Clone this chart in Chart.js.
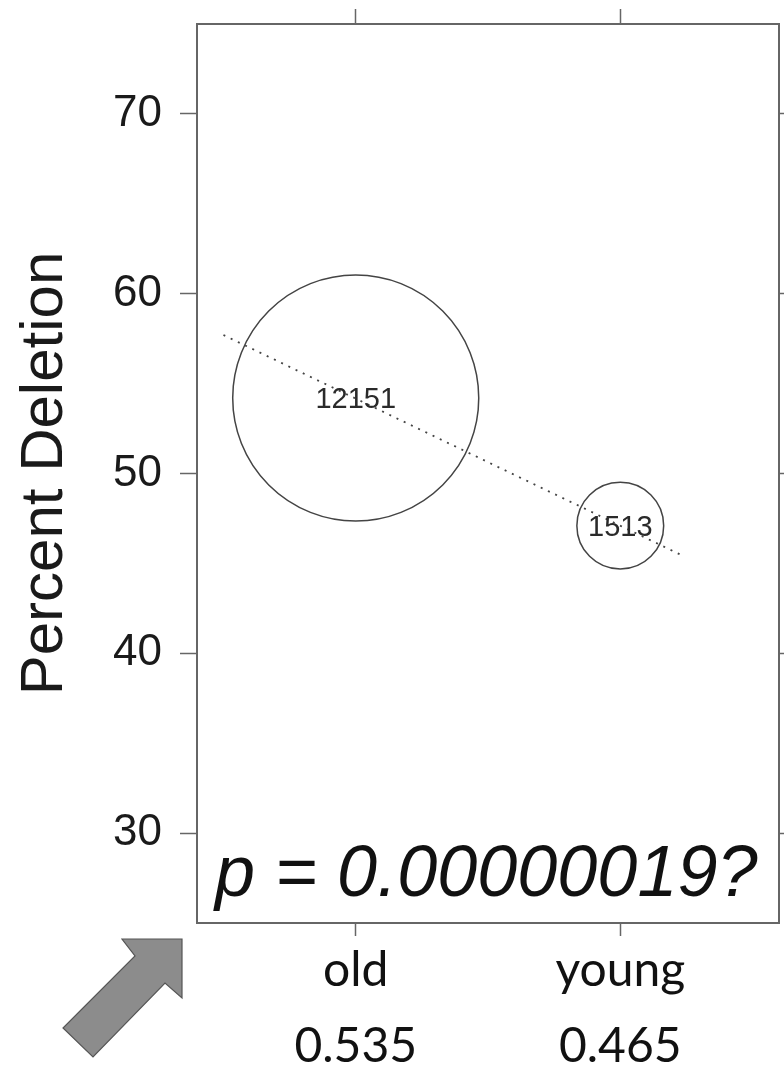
<!DOCTYPE html>
<html>
<head>
<meta charset="utf-8">
<title>Percent Deletion by age group</title>
<script src="https://cdn.jsdelivr.net/npm/chart.js@4.4.1/dist/chart.umd.min.js"></script>
<style>
  html, body { margin: 0; padding: 0; background: #fff; }
  #wrap { position: relative; width: 784px; height: 1071px; }
</style>
</head>
<body>
<div id="wrap"><canvas id="chart"></canvas></div>
<script>
// ── Data ──
const groups = ['old', 'young'];
const groupFreq = ['0.535', '0.465'];
const groupX = [1, 2];
const meanDeletion = [54.2, 47.1];
const groupCounts = [12151, 1513];
const trendX = [0.5, 2.24];
const trendY = [57.7, 45.4];
const yTicks = [30, 40, 50, 60, 70];
const pLabel = 'p = 0.00000019?';

const AXIS = '#666';
const INK = '#1a1a1a';
const SANS = '"Liberation Sans", Arial, sans-serif';

// circle area follows the number of observations
function bubbleRadius(n) {
  return 1.116 * Math.sqrt(n);
}

function fixTicks(values) {
  return scale => { scale.ticks = values.map(v => ({ value: v })); };
}

// fixed box sizes so the plot frame lands where the panel layout wants it
function fitTo(size) {
  return scale => {
    if (scale.isHorizontal()) scale.height = size;
    else scale.width = size;
    scale.paddingTop = scale.paddingBottom = scale.paddingLeft = scale.paddingRight = 0;
  };
}

// ── Overlays: counts inside the circles, p-value, corner arrow ──
const overlays = {
  id: 'overlays',
  afterDatasetsDraw(chart) {
    const { ctx, chartArea } = chart;
    const meta = chart.getDatasetMeta(0);
    ctx.save();
    ctx.fillStyle = '#2a2a2a';
    ctx.font = '29px ' + SANS;
    ctx.textAlign = 'center';
    ctx.textBaseline = 'middle';
    meta.data.forEach((el, i) => ctx.fillText(String(groupCounts[i]), el.x, el.y + 2));

    ctx.fillStyle = '#111';
    ctx.font = 'italic 72px ' + SANS;
    ctx.textAlign = 'left';
    ctx.textBaseline = 'alphabetic';
    ctx.fillText(pLabel, chartArea.left + 18, chartArea.bottom - 27);
    ctx.restore();
  },
  afterDraw(chart) {
    const { ctx, chartArea } = chart;
    const tx = chartArea.left - 15, ty = chartArea.bottom + 16;
    const pts = [[0, 0], [-60, 0], [-47, 17], [-119, 89], [-89, 118], [-17, 44], [0, 59]];
    ctx.save();
    ctx.beginPath();
    pts.forEach(([dx, dy], i) => i ? ctx.lineTo(tx + dx, ty + dy) : ctx.moveTo(tx + dx, ty + dy));
    ctx.closePath();
    ctx.fillStyle = '#8c8c8c';
    ctx.fill();
    ctx.lineWidth = 1.2;
    ctx.strokeStyle = '#555';
    ctx.stroke();
    ctx.restore();
  }
};

const gridOpts = { drawOnChartArea: false, tickColor: AXIS, tickWidth: 1.5 };
const borderOpts = { color: AXIS, width: 2 };

new Chart(document.getElementById('chart'), {
  type: 'bubble',
  data: {
    datasets: [
      {
        label: 'Groups',
        data: groupX.map((x, i) => ({ x, y: meanDeletion[i], r: bubbleRadius(groupCounts[i]) })),
        backgroundColor: 'rgba(0,0,0,0)',
        borderColor: '#444',
        borderWidth: 1.5,
        hoverRadius: 0,
        xAxisID: 'x',
        yAxisID: 'y',
      },
      {
        type: 'line',
        label: 'Trend',
        data: trendX.map((x, i) => ({ x, y: trendY[i] })),
        borderColor: '#444',
        borderWidth: 1.8,
        borderDash: [2, 6],
        pointRadius: 0,
        fill: false,
        xAxisID: 'x',
        yAxisID: 'y',
      },
    ]
  },
  options: {
    responsive: true,
    maintainAspectRatio: false,
    animation: false,
    events: [],
    layout: { padding: 0, autoPadding: false },
    plugins: { legend: { display: false }, tooltip: { enabled: false } },
    scales: {
      x: {
        type: 'linear', axis: 'x', position: 'bottom', min: 0.4, max: 2.6,
        afterBuildTicks: fixTicks(groupX),
        afterFit: fitTo(148),
        grid: { ...gridOpts, tickLength: 13 },
        border: borderOpts,
        ticks: {
          padding: -3, maxRotation: 0, autoSkip: false, color: '#111',
          font: { family: 'Lato', size: 48, lineHeight: 1.58 },
          callback: v => {
            const i = groupX.indexOf(v);
            return i < 0 ? '' : [groups[i], groupFreq[i]];
          }
        }
      },
      xTop: {
        type: 'linear', axis: 'x', position: 'top', min: 0.4, max: 2.6,
        afterBuildTicks: fixTicks(groupX),
        afterFit: fitTo(24),
        grid: { ...gridOpts, tickLength: 15 },
        border: borderOpts,
        ticks: { display: false }
      },
      y: {
        type: 'linear', axis: 'y', position: 'left', min: 25, max: 75,
        afterBuildTicks: fixTicks(yTicks),
        afterFit: fitTo(197),
        grid: { ...gridOpts, tickLength: 17 },
        border: borderOpts,
        ticks: { padding: 18, color: INK, font: { family: SANS, size: 44 } },
        title: {
          display: true, text: 'Percent Deletion', color: INK,
          padding: { top: 9, bottom: 0 },
          font: { family: SANS, size: 60 }
        }
      },
      yRight: {
        type: 'linear', axis: 'y', position: 'right', min: 25, max: 75,
        afterBuildTicks: fixTicks(yTicks),
        afterFit: fitTo(5),
        grid: { ...gridOpts, tickLength: 10 },
        border: borderOpts,
        ticks: { display: false }
      }
    }
  },
  plugins: [overlays]
});
</script>
</body>
</html>
